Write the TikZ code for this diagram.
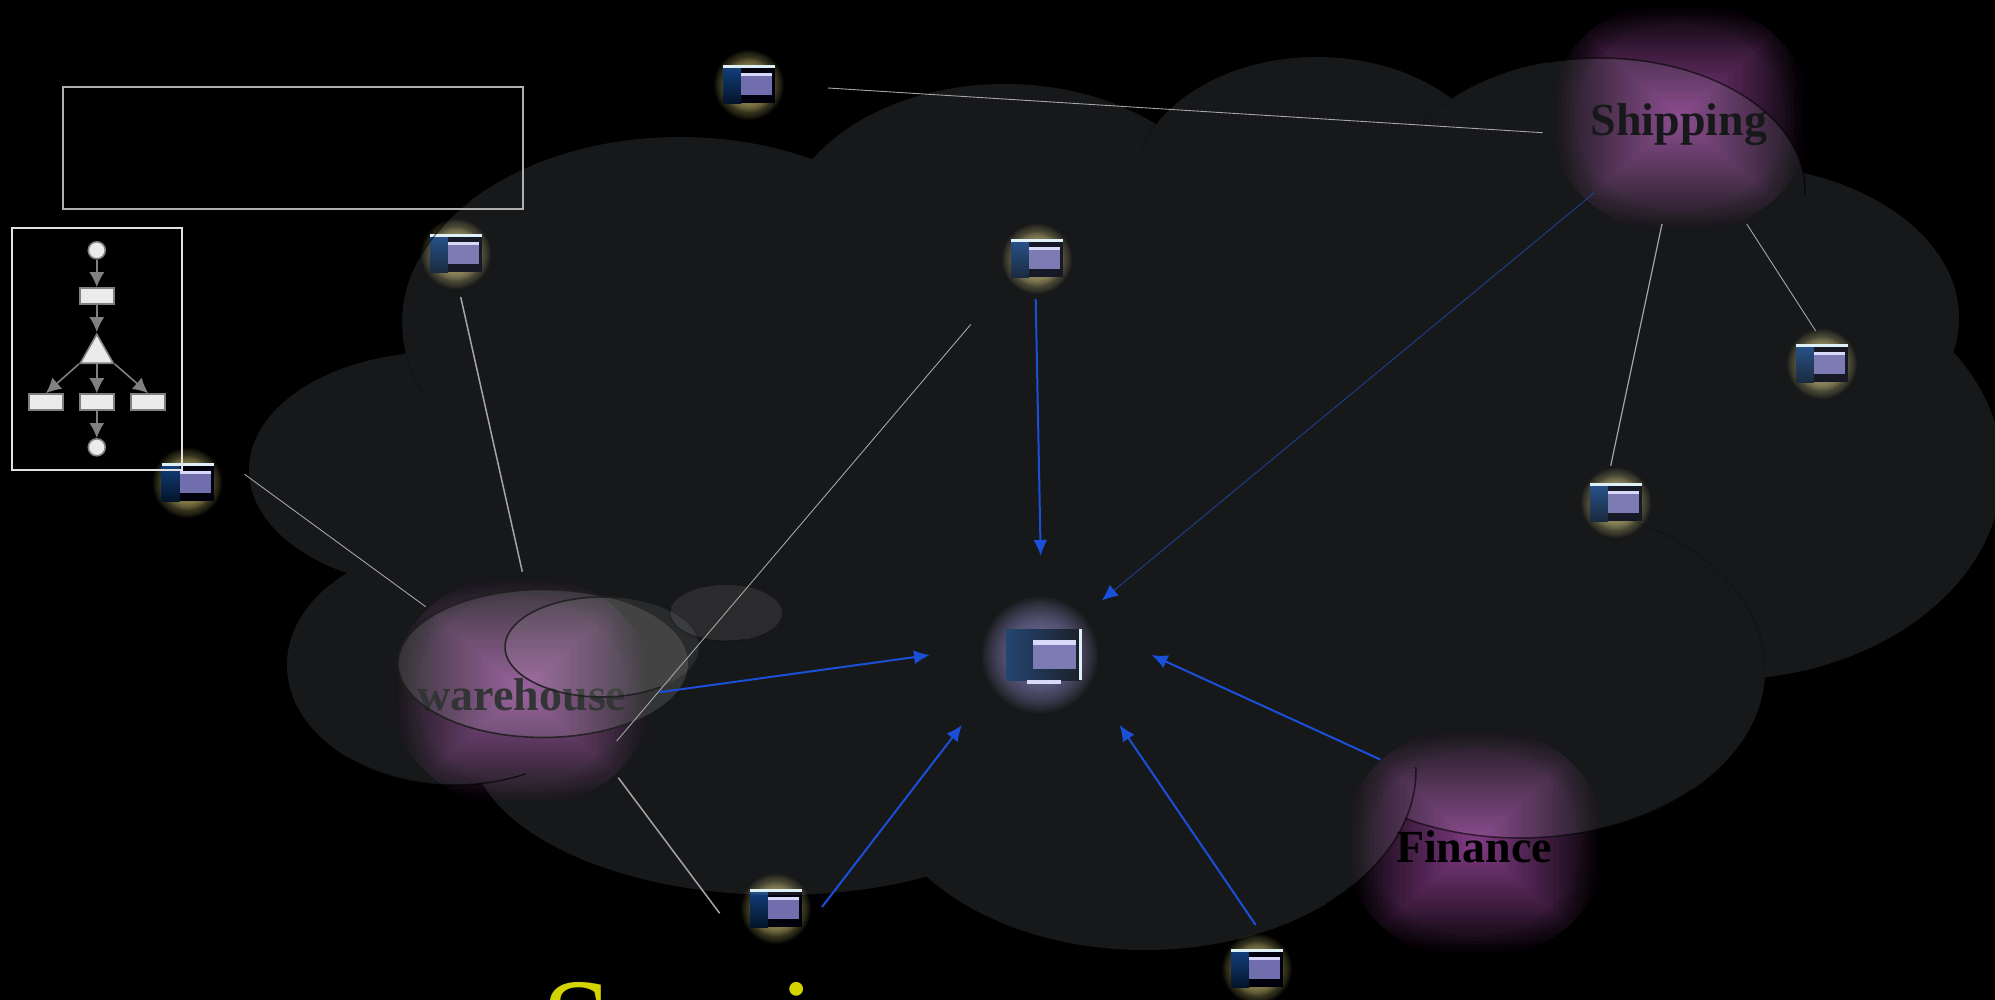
\documentclass[tikz,border=0pt]{standalone}
\usepackage{fontspec}
\setmainfont{Liberation Serif}
\usetikzlibrary{arrows.meta,shapes.geometric}
\definecolor{peak}{RGB}{132,60,134}
\definecolor{cloudtint}{RGB}{235,245,255}
\definecolor{bluearrow}{RGB}{26,79,216}
\definecolor{dimblue}{RGB}{32,62,150}
\definecolor{greyline}{RGB}{165,165,165}
\definecolor{glowyellow}{RGB}{175,165,100}
\definecolor{glowlav}{RGB}{130,125,190}
\definecolor{iconbar}{RGB}{222,240,245}
\definecolor{iconpurple}{RGB}{112,110,172}
\definecolor{iconstrip}{RGB}{215,215,250}
\definecolor{iconblue}{RGB}{18,62,122}
\definecolor{iconbluedark}{RGB}{4,20,42}
\definecolor{titleyellow}{RGB}{212,212,0}
\definecolor{minifill}{RGB}{235,235,235}
\definecolor{minigrey}{RGB}{128,128,128}
\tikzset{
  linkthin/.style={draw=greyline,line width=0.9pt},
  linkthick/.style={draw=greyline,line width=1.5pt},
  flow/.style={draw=bluearrow,line width=2pt,-{Latex[length=16pt,width=14pt]}},
  flowdim/.style={draw=dimblue,line width=0.9pt,-{Latex[length=16pt,width=14pt,color=bluearrow]}},
  lobeedge/.style={draw=black,draw opacity=0.6,line width=1.5pt},
  lobefaint/.style={draw=black,draw opacity=0.22,line width=1pt},
  hiliteedge/.style={draw=black!88!white,draw opacity=0.9,line width=1.6pt},
  deptlabel/.style={font=\fontsize{46}{50}\selectfont\bfseries,anchor=base,inner sep=0pt},
  minibox/.style={draw=minigrey,fill=minifill,line width=1.6pt,minimum width=34pt,minimum height=16pt,inner sep=0pt},
  minidot/.style={circle,draw=minigrey,fill=minifill,line width=1.6pt,minimum size=17pt,inner sep=0pt},
  miniflow/.style={draw=minigrey,line width=1.6pt,-{Latex[length=15pt,width=15pt]}},
}
\newcommand{\purplelobe}[2]{%
  \begin{scope}
    \clip (#1,#2) ellipse [x radius=132pt,y radius=117pt];
    \foreach \i in {0,...,30}{%
      \pgfmathsetmacro\ff{1-\i/30}%
      \pgfmathsetmacro\pc{100*pow(\i/30,0.95)}%
      \fill[peak!\pc!black] ({#1-132*\ff},{#2-117*\ff}) rectangle ({#1+132*\ff},{#2+117*\ff});
    }
    \foreach \k in {0.8,0.84,0.88,0.91,0.94,0.97}{%
      \fill[black,fill opacity=0.09,even odd rule] (#1-140,#2-125) rectangle (#1+140,#2+125)
        (#1,#2) ellipse [x radius=\k*132pt,y radius=\k*117pt];
    }
  \end{scope}}
\newcommand{\iconsmall}[3]{%
  \coordinate (#1) at (#2,#3+19);
  \foreach \r in {35,34,33,32,31,30,29,28}{%
    \fill[glowyellow,fill opacity=0.05] (#2,#3+20) ellipse [x radius=\r pt,y radius=\r pt];
  }
  \foreach \r in {27,26,25,24,23,22,21,20}{%
    \fill[glowyellow,fill opacity=0.11] (#2,#3+20) ellipse [x radius=\r pt,y radius=\r pt];
  }
  \fill[black!95!blue] (#2-26,#3) rectangle (#2+26,#3+38);
  \shade[top color=iconblue,bottom color=iconbluedark] (#2-26,#3+3) rectangle (#2-8,#3+38);
  \fill[iconpurple] (#2-8,#3+8) rectangle (#2+23,#3+30);
  \fill[iconstrip] (#2-8,#3+8) rectangle (#2+23,#3+10.5);
  \fill[iconbar] (#2-26,#3) rectangle (#2+26,#3+3);
}
\newcommand{\lobearc}[7]{%
  \draw[#1] plot[domain=#6:#7,samples=50] ({#2+#4*cos(\x)},{#3+#5*sin(\x)});
}
\begin{document}
\begin{tikzpicture}[x=1pt,y=-1pt]
\useasboundingbox (0,0) rectangle (1995,999);
\fill[black] (-5,-5) rectangle (2000,1010);
\clip (-1,-1) rectangle (1996,1001);

\purplelobe{1680}{117}
\purplelobe{1475}{843}
\purplelobe{522}{691}
\node[deptlabel,text=black] (shipping) at (1679,135) {Shipping};
\node[deptlabel,text=black] (finance) at (1474,862) {Finance};
\node[deptlabel,text=black] (warehouse) at (522,710) {warehouse};

\iconsmall{iconA}{749}{65}
\iconsmall{iconB}{456}{234}
\iconsmall{iconC}{1037}{239}
\iconsmall{iconD}{187.5}{463}
\iconsmall{iconE}{1822}{344}
\iconsmall{iconF}{1616}{483}
\iconsmall{iconG}{776}{889}
\iconsmall{iconH}{1257}{949}

\coordinate (hub) at (1040,655);
\foreach \r in {58,56,54,52,50,48,46,44,42,40,38,36,34,32,30,28,26,24}{%
  \fill[glowlav,fill opacity=0.06] (1040,655) ellipse [x radius=\r pt,y radius=\r pt];
}
\shade[left color=iconblue!80!black,right color=black!85!iconblue] (1006,629) rectangle (1080,680);
\fill[iconpurple] (1033,640) rectangle (1076,669);
\fill[iconstrip] (1033,640) rectangle (1076,645);
\fill[iconbar] (1079,629) rectangle (1082,680);
\fill[iconstrip] (1027,680) rectangle (1061,684);

\fill[cloudtint,fill opacity=0.103]
  (1150,500) ellipse [x radius=500pt,y radius=300pt]
  (750,500) ellipse [x radius=280pt,y radius=200pt]
  (1400,400) ellipse [x radius=300pt,y radius=250pt]
  (440,470) ellipse [x radius=191pt,y radius=118pt]
  (680,323) ellipse [x radius=278pt,y radius=186pt]
  (1005,240) ellipse [x radius=225pt,y radius=156pt]
  (1317,190) ellipse [x radius=185pt,y radius=133pt]
  (1600,190) ellipse [x radius=205pt,y radius=132pt]
  (1730,318) ellipse [x radius=229pt,y radius=153pt]
  (1720,470) ellipse [x radius=282pt,y radius=210pt]
  (1520,670) ellipse [x radius=245pt,y radius=168pt]
  (1145,770) ellipse [x radius=271pt,y radius=180pt]
  (780,740) ellipse [x radius=310pt,y radius=155pt]
  (455,665) ellipse [x radius=168pt,y radius=120pt];

\fill[white,fill opacity=0.12] (543,663.5) ellipse [x radius=145pt,y radius=74pt];
\fill[white,fill opacity=0.08] (602,647) ellipse [x radius=97pt,y radius=50pt];
\fill[white,fill opacity=0.085] (726,613) ellipse [x radius=56pt,y radius=28pt];
\lobearc{hiliteedge}{543}{663.5}{145}{74}{-64}{-308}
\lobearc{hiliteedge}{602}{647}{97}{50}{-80}{-307}
\lobearc{lobeedge,line width=1pt,draw opacity=0.4}{726}{613}{56}{28}{190}{70}

\lobearc{lobeedge}{1600}{190}{205}{132}{-105}{2}
\lobearc{lobeedge}{1145}{770}{271}{180}{-1}{48}
\lobearc{lobeedge}{1520}{670}{245}{168}{45}{118}
\lobearc{lobeedge}{455}{665}{168}{120}{65}{130}
\lobearc{lobeedge,line width=1pt}{680}{323}{278}{186}{-160}{-139}
\lobearc{lobefaint}{1520}{670}{245}{168}{-63}{0}
\lobearc{lobefaint}{680}{323}{278}{186}{180}{158}
\lobearc{lobefaint}{1317}{190}{185}{133}{-149}{-162}
\lobearc{lobefaint}{1600}{190}{205}{132}{-135}{-150}

\coordinate (a1) at (828,88);       \coordinate (a2) at (1542.7,132.7);
\coordinate (b1) at (460.7,297);    \coordinate (b2) at (522.3,571.7);
\coordinate (d1) at (244.6,474.3);  \coordinate (d2) at (425.7,606.7);
\coordinate (c1) at (970.8,324.4);  \coordinate (c2) at (616.7,741);
\coordinate (g1) at (719.7,913.3);  \coordinate (g2) at (618.3,777.7);
\coordinate (e1) at (1815.6,330.8); \coordinate (e2) at (1746.7,224);
\coordinate (f1) at (1610.7,465.7); \coordinate (f2) at (1662,224);
\draw[linkthin] (a1) -- (a2);
\draw[linkthick] (b1) -- (b2);
\draw[linkthin] (d1) -- (d2);
\draw[linkthin] (c1) -- (c2);
\draw[linkthick] (g1) -- (g2);
\draw[linkthin] (e1) -- (e2);
\draw[linkthick,line width=1.2pt] (f1) -- (f2);

\coordinate (h1) at (1035.7,299);   \coordinate (h2) at (1040.7,556);
\coordinate (s1) at (1594.3,192.7); \coordinate (s2) at (1101.8,600.5);
\coordinate (w1) at (659,692.3);    \coordinate (w2) at (930,655);
\coordinate (p1) at (822,907);      \coordinate (p2) at (962,725);
\coordinate (q1) at (1255.7,925);   \coordinate (q2) at (1119.6,725);
\coordinate (r1) at (1380.5,759.6); \coordinate (r2) at (1151.5,655);
\draw[flow] (h1) -- (h2);
\draw[flowdim] (s1) -- (s2);
\draw[flow] (w1) -- (w2);
\draw[flow] (p1) -- (p2);
\draw[flow] (q1) -- (q2);
\draw[flow] (r1) -- (r2);

\node[draw={rgb,255:red,176;green,176;blue,176},line width=2pt,minimum width=460pt,minimum height=121.7pt,inner sep=0pt] (titleframe) at (292.6,148.2) {};

\node[draw={rgb,255:red,225;green,225;blue,225},line width=2pt,minimum width=170.7pt,minimum height=242.3pt,inner sep=0pt] (legendframe) at (97.1,348.9) {};
\node[minidot] (mstart) at (96.8,250.3) {};
\node[minibox] (mtask) at (96.8,296) {};
\node[isosceles triangle,shape border rotate=90,isosceles triangle stretches,draw=minigrey,fill=minifill,line width=1.6pt,minimum width=33pt,minimum height=29pt,inner sep=0pt,anchor=lower side] (mgate) at (96.8,364) {};
\node[minibox] (mleft) at (45.9,402) {};
\node[minibox] (mmid) at (96.8,402) {};
\node[minibox] (mright) at (148.2,402) {};
\node[minidot] (mend) at (96.8,447.3) {};
\draw[miniflow] (mstart) -- (mtask);
\draw[miniflow] (mtask) -- (mgate.apex);
\draw[miniflow] (mgate.left corner) -- (mleft.north);
\draw[miniflow] (mgate.lower side) -- (mmid);
\draw[miniflow] (mgate.right corner) -- (mright.north);
\draw[miniflow] (mmid) -- (mend);

\node[font=\fontsize{130}{136}\selectfont,text=titleyellow,anchor=base west,inner sep=0pt] (caption) at (541,1068) {Services};
\end{tikzpicture}
\end{document}
